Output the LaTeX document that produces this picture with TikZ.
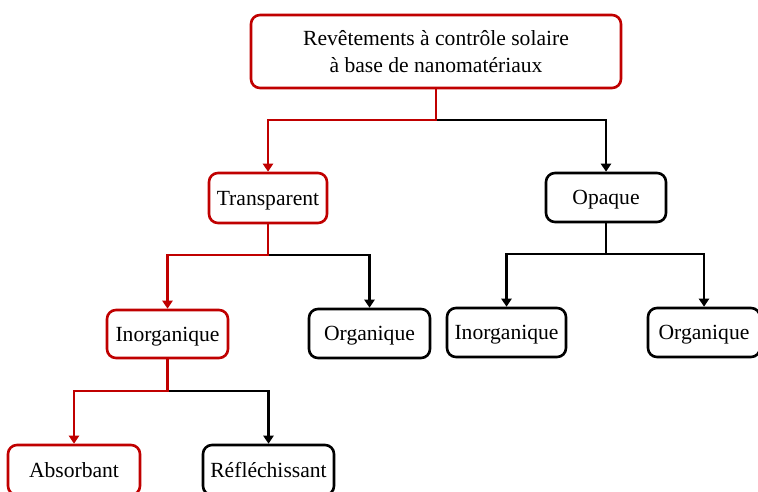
\documentclass[tikz,border=0pt]{standalone}
\usepackage{fontspec}
\setmainfont{Liberation Serif}
\usetikzlibrary{arrows.meta}
\definecolor{dred}{HTML}{C00000}
\tikzset{
  box/.style={draw, rounded corners=9pt, line width=2.6pt, fill=white, align=center,
    font=\fontsize{21.6}{27}\selectfont, inner sep=0pt, text depth=0pt},
  redbox/.style={box, draw=dred},
  blkbox/.style={box, draw=black},
  conn/.style={line width=2.8pt, -{Triangle[length=8pt,width=10pt]}},
  redconn/.style={conn, draw=dred},
  blkconn/.style={conn, draw=black},
}
\begin{document}
\begin{tikzpicture}[x=1pt,y=-1pt]
\useasboundingbox (0,0) rectangle (758,491);
\clip (0,0) rectangle (758,491);
\node[redbox, minimum width=370pt, minimum height=73pt] (top) at (436,51.5)
  {Revêtements à contrôle solaire\\à base de nanomatériaux};
\node[redbox, minimum width=118pt, minimum height=50pt] (trans) at (268,198) {Transparent};
\node[blkbox, minimum width=120pt, minimum height=49pt] (opaque) at (606,197.5) {Opaque};
\node[redbox, minimum width=121pt, minimum height=48pt] (inorgL) at (167.5,334) {Inorganique};
\node[blkbox, minimum width=121pt, minimum height=49pt] (orgM) at (369.5,333.5) {Organique};
\node[blkbox, minimum width=119pt, minimum height=49pt] (inorgR) at (506.5,332.5) {Inorganique};
\node[blkbox, minimum width=112pt, minimum height=49pt] (orgR) at (704,332.5) {Organique};
\node[redbox, minimum width=132pt, minimum height=50pt] (abs) at (74,470) {Absorbant};
\node[blkbox, minimum width=131pt, minimum height=50pt] (refl) at (268.5,470) {Réfléchissant};
\coordinate (j1) at (436,120);
\coordinate (j2) at (268,255);
\coordinate (j3) at (606,254);
\coordinate (j4) at (167.5,391);
% black branches first
\draw[blkconn] (j1) -| (opaque.north);
\draw[blkconn] (j2) -| (orgM.north);
\draw[line width=2.8pt] (opaque.south) -- (j3);
\draw[blkconn] (j3) -| (inorgR.north);
\draw[blkconn] (j3) -| (orgR.north);
\draw[blkconn] (j4) -| (refl.north);
% red branches
\draw[redconn] (top.south) -- (j1) -| (trans.north);
\draw[redconn] (trans.south) -- (j2) -| (inorgL.north);
\draw[redconn] (inorgL.south) -- (j4) -| (abs.north);
\end{tikzpicture}
\end{document}
